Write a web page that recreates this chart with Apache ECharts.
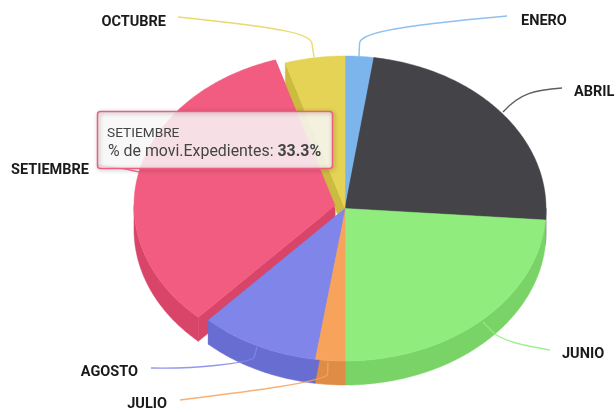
<!DOCTYPE html>
<html><head><meta charset="utf-8">
<style>html,body{margin:0;padding:0;background:#fff}#c{width:616px;height:412px}</style>
<script src="https://cdn.jsdelivr.net/npm/echarts@6/dist/echarts.min.js"></script>
</head><body><div id="c"></div>
<script>
// ---- data ----
const months = ['ENERO','ABRIL','JUNIO','JULIO','AGOSTO','SETIEMBRE','OCTUBRE'];
const shares = [2.3, 23.9, 23.8, 2.4, 9.5, 33.3, 4.8];
const seriesName = '% de movi.Expedientes';
const hovered = 'SETIEMBRE';

// ---- styles / layout ----
const faceColors = ['#7cb5ec','#434348','#90ed7d','#f7a35c','#8085e9','#f15c80','#e4d354'];
const wallColors = ['#6a9fd4','#2e2e33','#7ad367','#df8c46','#686dd1','#d94469','#ccbb3e'];
const CX = 345, CY = 208.5, RX = 201, RY = 152.5, DEPTH = 24;
const EXPLODE = {SETIEMBRE: [-10, -3]};
const FONT = 'Roboto, sans-serif';
// label anchor (x, y, align) and the connector path end points
const labelAt = {
  ENERO:     {x:521, y:21,  align:'left',  c:[[359,56],[359.5,44],[359.5,34],[385,27],[507,16]]},
  ABRIL:     {x:574, y:92,  align:'left',  c:[[503,112],[503,112],[520,93],[535,90],[562,88]]},
  JUNIO:     {x:562, y:354, align:'left',  c:[[483,322],[495,334],[505,341],[520,345],[550,350]]},
  JULIO:     {x:167, y:404, align:'right', c:[[328,362],[327.5,375],[315,383],[260,390],[180,400]]},
  AGOSTO:    {x:138, y:372, align:'right', c:[[257,347],[254,358],[245,363],[200,369],[151,368]]},
  SETIEMBRE: {x:89,  y:170, align:'right', c:[[139,172],[130,170],[120,168],[110,167],[98,165]]},
  OCTUBRE:   {x:166, y:22,  align:'right', c:[[314,57],[312,44],[312,34],[285,28],[178,17]]}
};

// cumulative angles, clockwise from the top
const total = shares.reduce((a, b) => a + b, 0);
const starts = [];
shares.reduce((acc, v, i) => { starts[i] = acc; return acc + v; }, 0);
const ang = v => v / total * Math.PI * 2;
const pt = (t, dx, dy) => [CX + dx + RX * Math.sin(t), CY + dy + -RY * Math.cos(t)];
const off = i => EXPLODE[months[i]] || [0, 0];
function arc(t0, t1, dx, dy) {
  const n = Math.max(2, Math.ceil((t1 - t0) / 0.01)), out = [];
  for (let k = 0; k <= n; k++) out.push(pt(t0 + (t1 - t0) * k / n, dx, dy));
  return out;
}

function renderWall(params, api) {
  const i = api.value(0), v = api.value(1);
  const t0 = ang(starts[i]), t1 = t0 + ang(v);
  const [dx, dy] = off(i);
  const kids = [];
  const style = {fill: wallColors[i], stroke: wallColors[i], lineWidth: 0.5};
  // cut faces
  [t0, t1].forEach(t => {
    const o = pt(t, dx, dy), c = [CX + dx, CY + dy];
    kids.push({type:'polygon', shape:{points:[c, o, [o[0], o[1] + DEPTH], [c[0], c[1] + DEPTH]]}, style});
  });
  // outer wall: only the front half of the rim is visible
  const a = Math.max(t0, Math.PI / 2), b = Math.min(t1, Math.PI * 1.5);
  if (b > a) {
    const top = arc(a, b, dx, dy), bot = arc(a, b, dx, dy + DEPTH).reverse();
    kids.push({type:'polygon', shape:{points: top.concat(bot)}, style});
  }
  return {type:'group', children: kids};
}
function renderFace(params, api) {
  const i = api.value(0), v = api.value(1);
  const t0 = ang(starts[i]), t1 = t0 + ang(v);
  const [dx, dy] = off(i);
  const pts = [[CX + dx, CY + dy]].concat(arc(t0, t1, dx, dy));
  return {type:'polygon', shape:{points: pts}, style:{fill: faceColors[i], stroke: faceColors[i], lineWidth: 0.5}};
}
function renderConnector(params, api) {
  const i = api.value(0), c = labelAt[months[i]].c;
  const stroke = faceColors[i];
  return {type:'group', children:[
    {type:'line', shape:{x1:c[0][0], y1:c[0][1], x2:c[1][0], y2:c[1][1]}, style:{stroke, lineWidth:1.4, fill:null, opacity:0.85}},
    {type:'bezierCurve', shape:{x1:c[1][0], y1:c[1][1], cpx1:c[2][0], cpy1:c[2][1], cpx2:c[3][0], cpy2:c[3][1], x2:c[4][0], y2:c[4][1]},
     style:{stroke, lineWidth:1.4, fill:null, opacity:0.85}}
  ]};
}
function renderLabel(params, api) {
  const i = api.value(0), l = labelAt[months[i]];
  return {type:'text', style:{text: months[i], x:l.x, y:l.y, align:l.align, verticalAlign:'middle',
    font:'bold 14.5px ' + FONT, fill:'#1a1a1a'}};
}

const rows = months.map((m, i) => [i, shares[i]]);
// the outermost slice's walls go first so neighbours sit over them
const wallRows = rows.slice().sort((a, b) => (EXPLODE[months[b[0]]] ? 1 : 0) - (EXPLODE[months[a[0]]] ? 1 : 0));
const custom = (name, render, data, z) => ({type:'custom', name, coordinateSystem:'none', renderItem:render, data, z, silent:true, animation:false, clip:false});

const hv = shares[months.indexOf(hovered)];
const option = {
  animation:false,
  backgroundColor:'#fff',
  series:[
    custom('walls', renderWall, wallRows, 1),
    custom('faces', renderFace, rows, 2),
    custom('connectors', renderConnector, rows, 3),
    custom('labels', renderLabel, rows, 4)
  ],
  graphic:[
    {type:'rect', z:10, shape:{x:97.5, y:111.5, width:235, height:57, r:3}, style:{fill:'rgba(247,247,247,0.85)'}},
    {type:'rect', z:11, shape:{x:97.5, y:111.5, width:235, height:57, r:3},
     style:{fill:null, stroke:'#f15c80', lineWidth:1.5, shadowBlur:4, shadowOffsetX:1, shadowOffsetY:1, shadowColor:'rgba(0,0,0,0.35)'}},
    {type:'text', z:12, style:{x:107, y:133.5, text:hovered, font:'13.7px '+FONT, fill:'#444', verticalAlign:'middle'}},
    {type:'text', z:12, style:{x:108, y:152.5, verticalAlign:'middle', font:'15.9px '+FONT, fill:'#444',
      text:seriesName+': {b|'+hv.toFixed(1)+'%}', rich:{b:{font:'bold 15.9px '+FONT, fill:'#444'}}}}
  ]
};
echarts.init(document.getElementById('c'), null, {renderer:'canvas'}).setOption(option);
</script></body></html>
